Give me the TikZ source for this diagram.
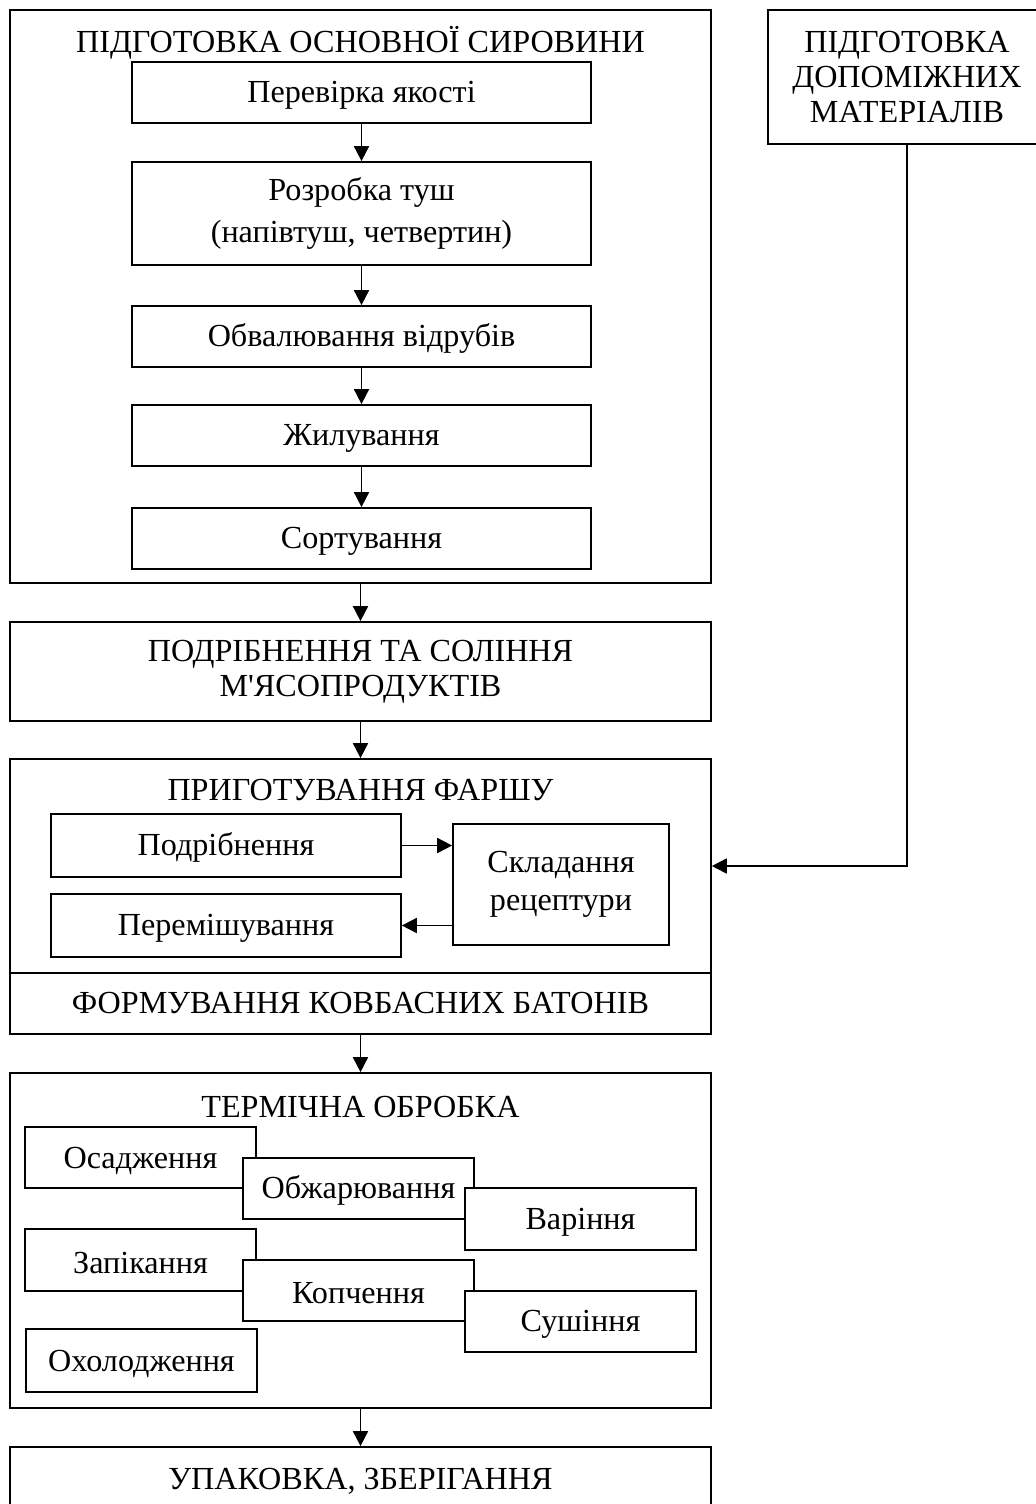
\documentclass[tikz,border=0pt]{standalone}
\usepackage{fontspec}
\setmainfont{Liberation Serif}[Ligatures=TeXOff]
\usetikzlibrary{positioning}
\usetikzlibrary{calc}
\usetikzlibrary{arrows.meta}

\tikzset{
  dn/.style={execute at begin node={\rule{0pt}{15.5pt}}},
  blk/.style={draw, line width=1pt, fill=white, align=center, inner sep=0pt, minimum width=9.18cm, minimum height=1.22cm, dn},
  frame/.style={draw, line width=1pt, fill=white, inner sep=0pt, minimum width=14.02cm},
  tbox/.style={blk, minimum width=4.62cm},
  arr/.style={line width=1pt, -{Triangle[width=8.5pt,length=8.5pt]}}
}

\begin{document}
\begin{tikzpicture}[x=0.02cm, y=-0.02cm, font=\fontsize{18.3}{20}\selectfont]
\useasboundingbox (0,0) rectangle (1035,1504);

\node[frame, minimum height=11.46cm](osn) at (360.5,296.5){};
\node[](osnT) at (360.5,43){ПІДГОТОВКА ОСНОВНОЇ СИРОВИНИ};
\node[blk](perev) at (361.5,92.5){Перевірка якості};
\node[blk, minimum height=2.06cm](rozr) at (361.5,213.5){Розробка туш\\[4pt](напівтуш, четвертин)};
\node[blk](obval) at (361.5,336.5){Обвалювання відрубів};
\node[blk](zhyl) at (361.5,435.5){Жилування};
\node[blk](sort) at (361.5,538.5){Сортування};

\node[frame, minimum height=1.98cm, align=center, dn](podr) at (360.5,671.5){ПОДРІБНЕННЯ ТА СОЛІННЯ\\М'ЯСОПРОДУКТІВ};

\node[frame, minimum height=4.28cm](pryg) at (360.5,866){};
\node[](prygT) at (360.5,790){ПРИГОТУВАННЯ ФАРШУ};
\node[blk, minimum width=7cm, minimum height=1.26cm](podrib) at (226,845.5){Подрібнення};
\node[blk, minimum width=7cm, minimum height=1.26cm](perem) at (226,925.5){Перемішування};
\node[blk, minimum width=4.32cm, minimum height=2.42cm](sklad) at (561,884.5){Складання\\[1.5pt]рецептури};
\node[frame, minimum height=1.22cm](form) at (360.5,1003.5){ФОРМУВАННЯ КОВБАСНИХ БАТОНІВ};

\node[blk, minimum width=5.56cm, minimum height=2.68cm, execute at begin node={}](dop) at (907,77){ПІДГОТОВКА\\ДОПОМІЖНИХ\\МАТЕРІАЛІВ};

\node[frame, minimum height=6.7cm](term) at (360.5,1240.5){};
\node[](termT) at (360.5,1107){ТЕРМІЧНА ОБРОБКА};
\node[tbox](osad) at (140.5,1157.5){Осадження};
\node[tbox](obzh) at (358.5,1188.5){Обжарювання};
\node[tbox, minimum height=1.24cm](var) at (580.5,1219){Варіння};
\node[tbox, minimum height=1.24cm](zapik) at (140.5,1260){Запікання};
\node[tbox](kopch) at (358.5,1290.5){Копчення};
\node[tbox](sush) at (580.5,1321.5){Сушіння};
\node[tbox, minimum height=1.26cm](okhol) at (141.5,1360.5){Охолодження};

\node[frame, minimum height=1.36cm](upak) at (360.5,1481){УПАКОВКА, ЗБЕРІГАННЯ};

\path
(perev) edge[arr] (rozr)
(rozr) edge[arr] (obval)
(obval) edge[arr] (zhyl)
(zhyl) edge[arr] (sort)
(osn) edge[arr] (podr)
(podr) edge[arr] (pryg)
(form) edge[arr] (term)
(term) edge[arr] (upak);

\draw[arr] (podrib.east) -- (podrib.east -| sklad.west);
\draw[arr] (sklad.west |- perem.east) -- (perem.east);
\draw[arr] (dop.south) |- (pryg.east);
\end{tikzpicture}
\end{document}
